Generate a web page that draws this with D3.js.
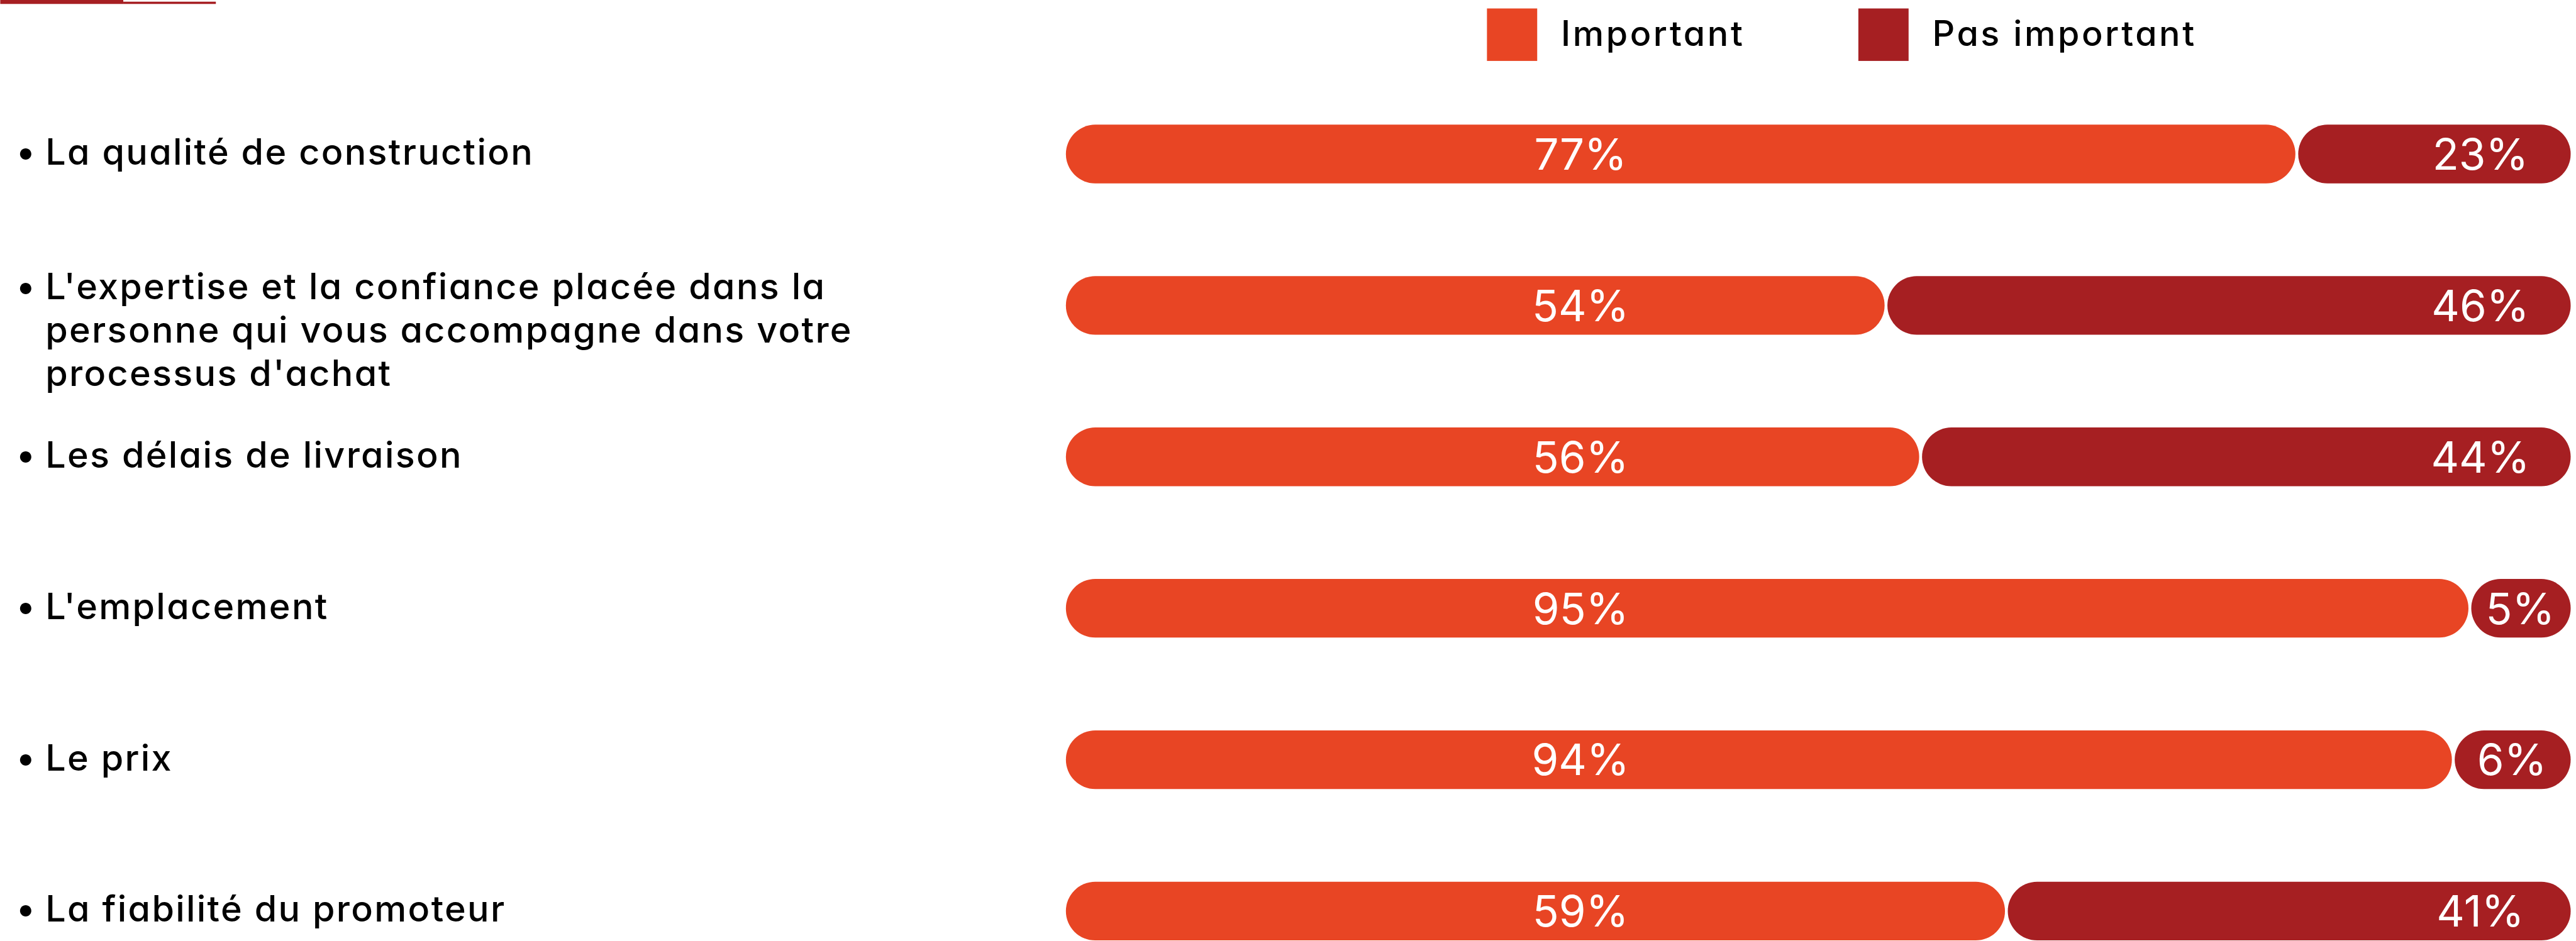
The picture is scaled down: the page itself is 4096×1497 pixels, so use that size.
<!DOCTYPE html>
<html>
<head>
<meta charset="utf-8">
<script src="https://cdnjs.cloudflare.com/ajax/libs/d3/7.8.5/d3.min.js"></script>
<style>
    body { margin: 0; background: #fff; }
    svg { display: block; }
    text { font-family: Inter, "Open Sans", sans-serif; font-feature-settings: "cv11" 1; }
</style>
</head>
<body>
<svg id="chart"></svg>
<script>
// rows, top to bottom (\n = line break in the label)
var categories = [
    "La qualité de construction",
    "L'expertise et la confiance placée dans la\npersonne qui vous accompagne dans votre\nprocessus d'achat",
    "Les délais de livraison",
    "L'emplacement",
    "Le prix",
    "La fiabilité du promoteur"
];
var important    = [77, 54, 56, 95, 94, 59];
var notImportant = [23, 46, 44, 5, 6, 41];
// where the two pills meet on each bar (percent of bar)
var barSplit = [81.8, 54.5, 56.8, 93.3, 92.2, 62.5];

var seriesNames  = ["Important", "Pas important"];
var seriesColors = ["#e84524", "#a61f22"];

// drawing is done in the reference's own 4563x1668 space, then scaled to the window
var W = 4563, H = 1668;

var svg = d3.select("#chart")
    .attr("width", 4096)
    .attr("height", 1497)
    .attr("viewBox", "0 0 " + W + " " + H);

var color = d3.scaleOrdinal().domain(seriesNames).range(seriesColors);

var x = d3.scaleLinear().domain([0, 100]).range([1888, 4554]);
var y = d3.scalePoint().domain(categories).range([273, 1615]);

var barH = 104, gap = 5;

// little red rule in the top left corner
svg.append("rect").attr("x", 0).attr("y", 0).attr("width", 218).attr("height", 7).attr("fill", seriesColors[1]);
svg.append("rect").attr("x", 218).attr("y", 3).attr("width", 164).attr("height", 4).attr("fill", seriesColors[1]);

// legend
var legendX = d3.scaleOrdinal().domain(seriesNames).range([2634, 3292]);
var legend = svg.append("g").selectAll("g")
    .data(seriesNames)
    .enter().append("g")
    .attr("transform", function(d){ return "translate(" + legendX(d) + ",15)"; });
legend.append("rect")
    .attr("width", 89)
    .attr("height", 93)
    .attr("fill", function(d){ return color(d); });
legend.append("text")
    .attr("x", 131)
    .attr("y", 66)
    .attr("font-size", 62)
    .attr("font-weight", 500)
    .attr("letter-spacing", 4)
    .attr("fill", "#000")
    .text(function(d){ return d; });

// category labels with bullets
var lineH = 77;
var labels = svg.append("g").selectAll("text")
    .data(categories)
    .enter().append("text")
    .attr("font-size", 64)
    .attr("font-weight", 500)
    .attr("letter-spacing", 2.6)
    .attr("fill", "#000")
    .attr("y", function(d){
        var n = d.split("\n").length;
        return y(d) + 19 - (n > 1 ? 30 : 0);
    });
labels.each(function(d){
    var t = d3.select(this);
    d.split("\n").forEach(function(line, i){
        if (i == 0) {
            t.append("tspan").attr("x", 28).text("•");
            t.append("tspan").attr("x", 80).text(line);
        } else {
            t.append("tspan").attr("x", 80).attr("dy", lineH).text(line);
        }
    });
});

// bars
var rows = categories.map(function(c, i){
    return { cat: c, imp: important[i], not: notImportant[i], split: barSplit[i] };
});

var bars = svg.append("g").selectAll("g")
    .data(rows)
    .enter().append("g")
    .attr("transform", function(d){ return "translate(0," + (y(d.cat) - barH / 2) + ")"; });

bars.append("rect")
    .attr("x", x(0))
    .attr("width", function(d){ return x(d.split) - x(0) - gap / 2; })
    .attr("height", barH)
    .attr("rx", barH / 2)
    .attr("fill", color("Important"));

bars.append("rect")
    .attr("x", function(d){ return x(d.split) + gap / 2; })
    .attr("width", function(d){ return x(100) - x(d.split) - gap / 2; })
    .attr("height", barH)
    .attr("rx", barH / 2)
    .attr("fill", color("Pas important"));

bars.append("text")
    .attr("x", x(34.2))
    .attr("y", barH / 2)
    .attr("dy", "0.36em")
    .attr("text-anchor", "middle")
    .attr("font-size", 77)
    .attr("fill", "#fff")
    .text(function(d){ return d.imp + "%"; });

bars.append("text")
    .attr("x", function(d){ return Math.max(x(94), (x(d.split) + x(100)) / 2); })
    .attr("y", barH / 2)
    .attr("dy", "0.36em")
    .attr("text-anchor", "middle")
    .attr("font-size", 77)
    .attr("fill", "#fff")
    .text(function(d){ return d.not + "%"; });
</script>
</body>
</html>
